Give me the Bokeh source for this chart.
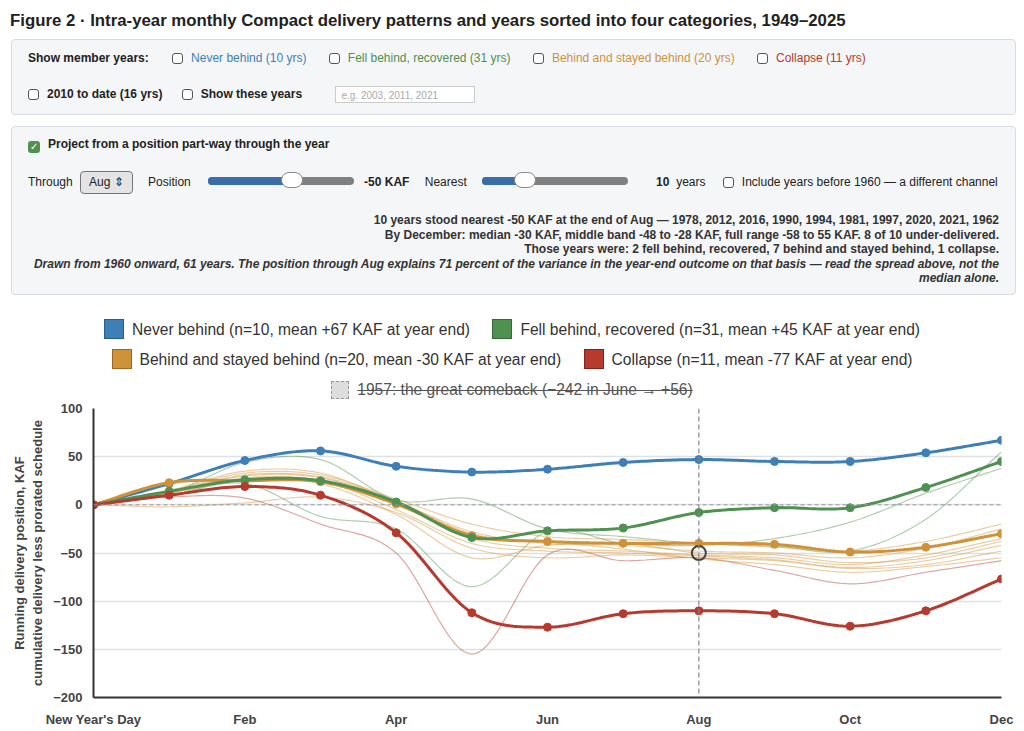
import numpy as np
from bokeh.plotting import figure
from bokeh.models import Div, Span, FixedTicker
from bokeh.layouts import column
from bokeh.embed import file_html
from bokeh.resources import INLINE

months = ["New Year's Day", "", "Feb", "", "Apr", "", "Jun", "", "Aug", "", "Oct", "", "Dec"]
never_behind = [0, 22, 46, 56, 40, 34, 37, 44, 47, 45, 45, 54, 67]
fell_recovered = [0, 14, 26, 25, 3, -34, -27, -24, -8, -3, -3, 18, 45]
stayed_behind = [0, 23, 25, 24, 1, -32, -38, -40, -40, -41, -49, -44, -30]
collapse = [0, 10, 19, 10, -29, -112, -127, -113, -110, -113, -126, -110, -77]

thin_green = [
    [0, 12, 44, 47, 5, 6, -25, -33, -40, -43, -48, -15, 55],
    [0, 10, 22, -12, -25, -85, -28, -40, -42, -35, -18, 12, 38],
]
thin_red = [[0, 8, 7, -20, -50, -155, -52, -58, -55, -68, -82, -70, -58]]
thin_orange = [
    [0, 14, 33, 31, 6, -20, -33, -36, -40, -44, -48, -38, -20],
    [0, 12, 30, 28, 3, -28, -40, -42, -48, -50, -55, -45, -25],
    [0, 15, 35, 33, 2, -35, -45, -48, -52, -55, -62, -52, -35],
    [0, 10, 28, 25, -5, -40, -48, -50, -53, -57, -65, -58, -42],
    [0, -2, 2, 8, -8, -45, -55, -52, -55, -58, -66, -62, -48],
    [0, 12, 26, 22, -10, -55, -42, -40, -50, -52, -60, -55, -38],
    [0, 13, 31, 29, 4, -30, -38, -46, -56, -62, -70, -64, -55],
]
marker_x, marker_y = 8, -50

BLUE, GREEN, ORANGE, RED = "#3f7fb8", "#4e9150", "#cf9238", "#b63a2d"

def smooth(ys, n=20):
    ys = np.asarray(ys, float)
    xs = np.arange(len(ys))
    p = np.concatenate([[2*ys[0]-ys[1]], ys, [2*ys[-1]-ys[-2]]])
    ox, oy = [], []
    for i in range(len(ys)-1):
        t = np.linspace(0, 1, n, endpoint=False)
        p0, p1, p2, p3 = p[i], p[i+1], p[i+2], p[i+3]
        y = 0.5*((2*p1) + (-p0+p2)*t + (2*p0-5*p1+4*p2-p3)*t**2 + (-p0+3*p1-3*p2+p3)*t**3)
        ox.extend(xs[i]+t); oy.extend(y)
    ox.append(xs[-1]); oy.append(ys[-1])
    return ox, oy

cb = '<span style="display:inline-block;width:11px;height:11px;border:1.5px solid #555;border-radius:3px;vertical-align:-2px;margin-right:8px;background:#fff"></span>'
cbon = '<span style="display:inline-block;width:12px;height:12px;border-radius:3px;vertical-align:-2px;margin-right:8px;background:#4e9150;color:#fff;font-size:10px;line-height:12px;text-align:center">&#10003;</span>'
panel = "background:#f5f6f8;border:1px solid #d8dbe0;border-radius:4px;box-sizing:border-box;"
font = "font-family:'Liberation Sans',Arial,sans-serif;font-size:12px;color:#222;"
slider = lambda w, f: (f'<span style="display:inline-block;position:relative;width:{w}px;height:8px;background:#808080;border-radius:4px;vertical-align:1px">'
                       f'<span style="position:absolute;left:0;top:0;width:{f}px;height:8px;background:#3a6ea8;border-radius:4px"></span>'
                       f'<span style="position:absolute;left:{f-12}px;top:-5px;width:22px;height:16px;background:#fff;border:1px solid #888;border-radius:9px"></span></span>')

html = f"""
<div style="{font}width:1008px;height:392px;overflow:hidden;position:relative">
<div style="font-size:16.8px;font-weight:bold;position:absolute;left:2px;top:1px;white-space:nowrap">Figure 2 · Intra-year monthly Compact delivery patterns and years sorted into four categories, 1949–2025</div>
<div style="{panel}position:absolute;left:3px;top:31px;width:1005px;height:76px;padding:0 16px;line-height:36px">
<b style="margin-right:20px">Show member years:</b>
{cb}<span style="color:{BLUE};margin-right:19px">Never behind (10 yrs)</span>
{cb}<span style="color:{GREEN};margin-right:19px">Fell behind, recovered (31 yrs)</span>
{cb}<span style="color:{ORANGE};margin-right:19px">Behind and stayed behind (20 yrs)</span>
{cb}<span style="color:{RED}">Collapse (11 yrs)</span><br>
{cb}<b style="margin-right:16px">2010 to date (16 yrs)</b>
{cb}<b style="margin-right:30px">Show these years</b>
<span style="display:inline-block;width:140px;height:17px;border:1px solid #ccc;background:#fff;color:#aaa;font-size:10px;line-height:17px;padding-left:5px;vertical-align:middle">e.g. 2003, 2011, 2021</span>
</div>
<div style="{panel}position:absolute;left:3px;top:118px;width:1005px;height:169px;padding:9px 16px">
<div>{cbon}<b>Project from a position part-way through the year</b></div>
<div style="margin-top:18px;white-space:nowrap">Through <span style="display:inline-block;border:1px solid #777;border-radius:4px;background:#e4e4e4;padding:2px 8px;margin:0 12px 0 4px">Aug &#8661;</span>
Position <span style="margin:0 10px 0 14px">{slider(146, 85)}</span><b style="margin-right:12px">-50 KAF</b>
Nearest <span style="margin:0 28px 0 12px">{slider(146, 44)}</span><span><b>10</b>&nbsp; years</span>
<span style="margin-left:14px">{cb}Include years before 1960 — a different channel</span></div>
<div style="text-align:right;font-size:12px;line-height:14.5px;margin-top:19px;color:#333;white-space:nowrap">
<b>10 years stood nearest -50 KAF at the end of Aug — 1978, 2012, 2016, 1990, 1994, 1981, 1997, 2020, 2021, 1962</b><br>
<b>By December: median -30 KAF, middle band -48 to -28 KAF, full range -58 to 55 KAF. 8 of 10 under-delivered.</b><br>
<b>Those years were: 2 fell behind, recovered, 7 behind and stayed behind, 1 collapse.</b><br>
<b><i>Drawn from 1960 onward, 61 years. The position through Aug explains 71 percent of the variance in the year-end outcome on that basis — read the spread above, not the<br>median alone.</i></b>
</div></div>
<div style="position:absolute;left:0;top:307px;width:1008px;text-align:center;font-size:15.6px;color:#333;line-height:30px">
<span style="display:inline-block;width:20px;height:20px;background:{BLUE};border:1px solid #2a5d8a;vertical-align:-4px;margin-right:8px"></span>Never behind (n=10, mean +67 KAF at year end)
<span style="display:inline-block;width:20px;height:20px;background:{GREEN};border:1px solid #356836;vertical-align:-4px;margin:0 8px 0 18px"></span>Fell behind, recovered (n=31, mean +45 KAF at year end)<br>
<span style="display:inline-block;width:20px;height:20px;background:{ORANGE};border:1px solid #9a6a22;vertical-align:-4px;margin-right:8px"></span>Behind and stayed behind (n=20, mean -30 KAF at year end)
<span style="display:inline-block;width:20px;height:20px;background:{RED};border:1px solid #822418;vertical-align:-4px;margin:0 8px 0 18px"></span>Collapse (n=11, mean -77 KAF at year end)<br>
<span style="display:inline-block;width:18px;height:18px;background:#ddd;border:1.5px dashed #999;vertical-align:-4px;margin-right:8px"></span><s style="color:#555">1957: the great comeback (−242 in June → +56)</s>
</div></div>
"""
header = Div(text=html, width=1008, height=392, margin=(0, 0, 0, 0))

p = figure(width=1008, height=329, output_backend="svg", toolbar_location=None,
           x_range=(0, 12), y_range=(-200, 100), min_border_left=85, min_border_right=15,
           min_border_top=8, min_border_bottom=27, margin=(0, 0, 0, 0))
p.outline_line_color = None
p.xgrid.grid_line_color = None
p.ygrid.grid_line_color = "#dde1e6"
p.ygrid.grid_line_width = 1.5
for ax in (p.xaxis, p.yaxis):
    ax.axis_line_color = "#333"
    ax.axis_line_width = 2
    ax.major_tick_line_color = None
    ax.minor_tick_line_color = None
    ax.major_label_text_font = "Liberation Sans"
    ax.major_label_text_font_size = "13px"
    ax.major_label_text_font_style = "bold"
    ax.major_label_text_color = "#444"
p.xaxis.major_label_standoff = 8
p.xaxis.ticker = FixedTicker(ticks=[0, 2, 4, 6, 8, 10, 12])
p.xaxis.major_label_overrides = {i: m for i, m in enumerate(months) if m}
p.yaxis.ticker = FixedTicker(ticks=[-200, -150, -100, -50, 0, 50, 100])
p.yaxis.axis_label = "Running delivery position, KAF\ncumulative delivery less prorated schedule"
p.yaxis.axis_label_text_font = "Liberation Sans"
p.yaxis.axis_label_text_font_size = "13px"
p.yaxis.axis_label_text_font_style = "bold"
p.yaxis.axis_label_text_color = "#444"

p.add_layout(Span(location=0, dimension="width", line_color="#999", line_dash="4 3", line_width=1))
p.add_layout(Span(location=8, dimension="height", line_color="#888", line_dash="5 3", line_width=1.2))

for ys, c in [(t, GREEN) for t in thin_green] + [(t, RED) for t in thin_red] + [(t, ORANGE) for t in thin_orange]:
    sx, sy = smooth(ys)
    p.line(sx, sy, line_color=c, line_width=1.2, line_alpha=0.45)

xs = list(range(13))
for ys, c in [(never_behind, BLUE), (stayed_behind, ORANGE), (fell_recovered, GREEN), (collapse, RED)]:
    sx, sy = smooth(ys)
    p.line(sx, sy, line_color=c, line_width=3)
    p.scatter(xs, ys, size=8, fill_color=c, line_color=c)

p.scatter([marker_x], [marker_y], size=14, fill_color=None, line_color="#444", line_width=2)

layout = column(header, p, spacing=0, margin=(8, 0, 0, 8))
open("out.html", "w").write(file_html(layout, INLINE))
